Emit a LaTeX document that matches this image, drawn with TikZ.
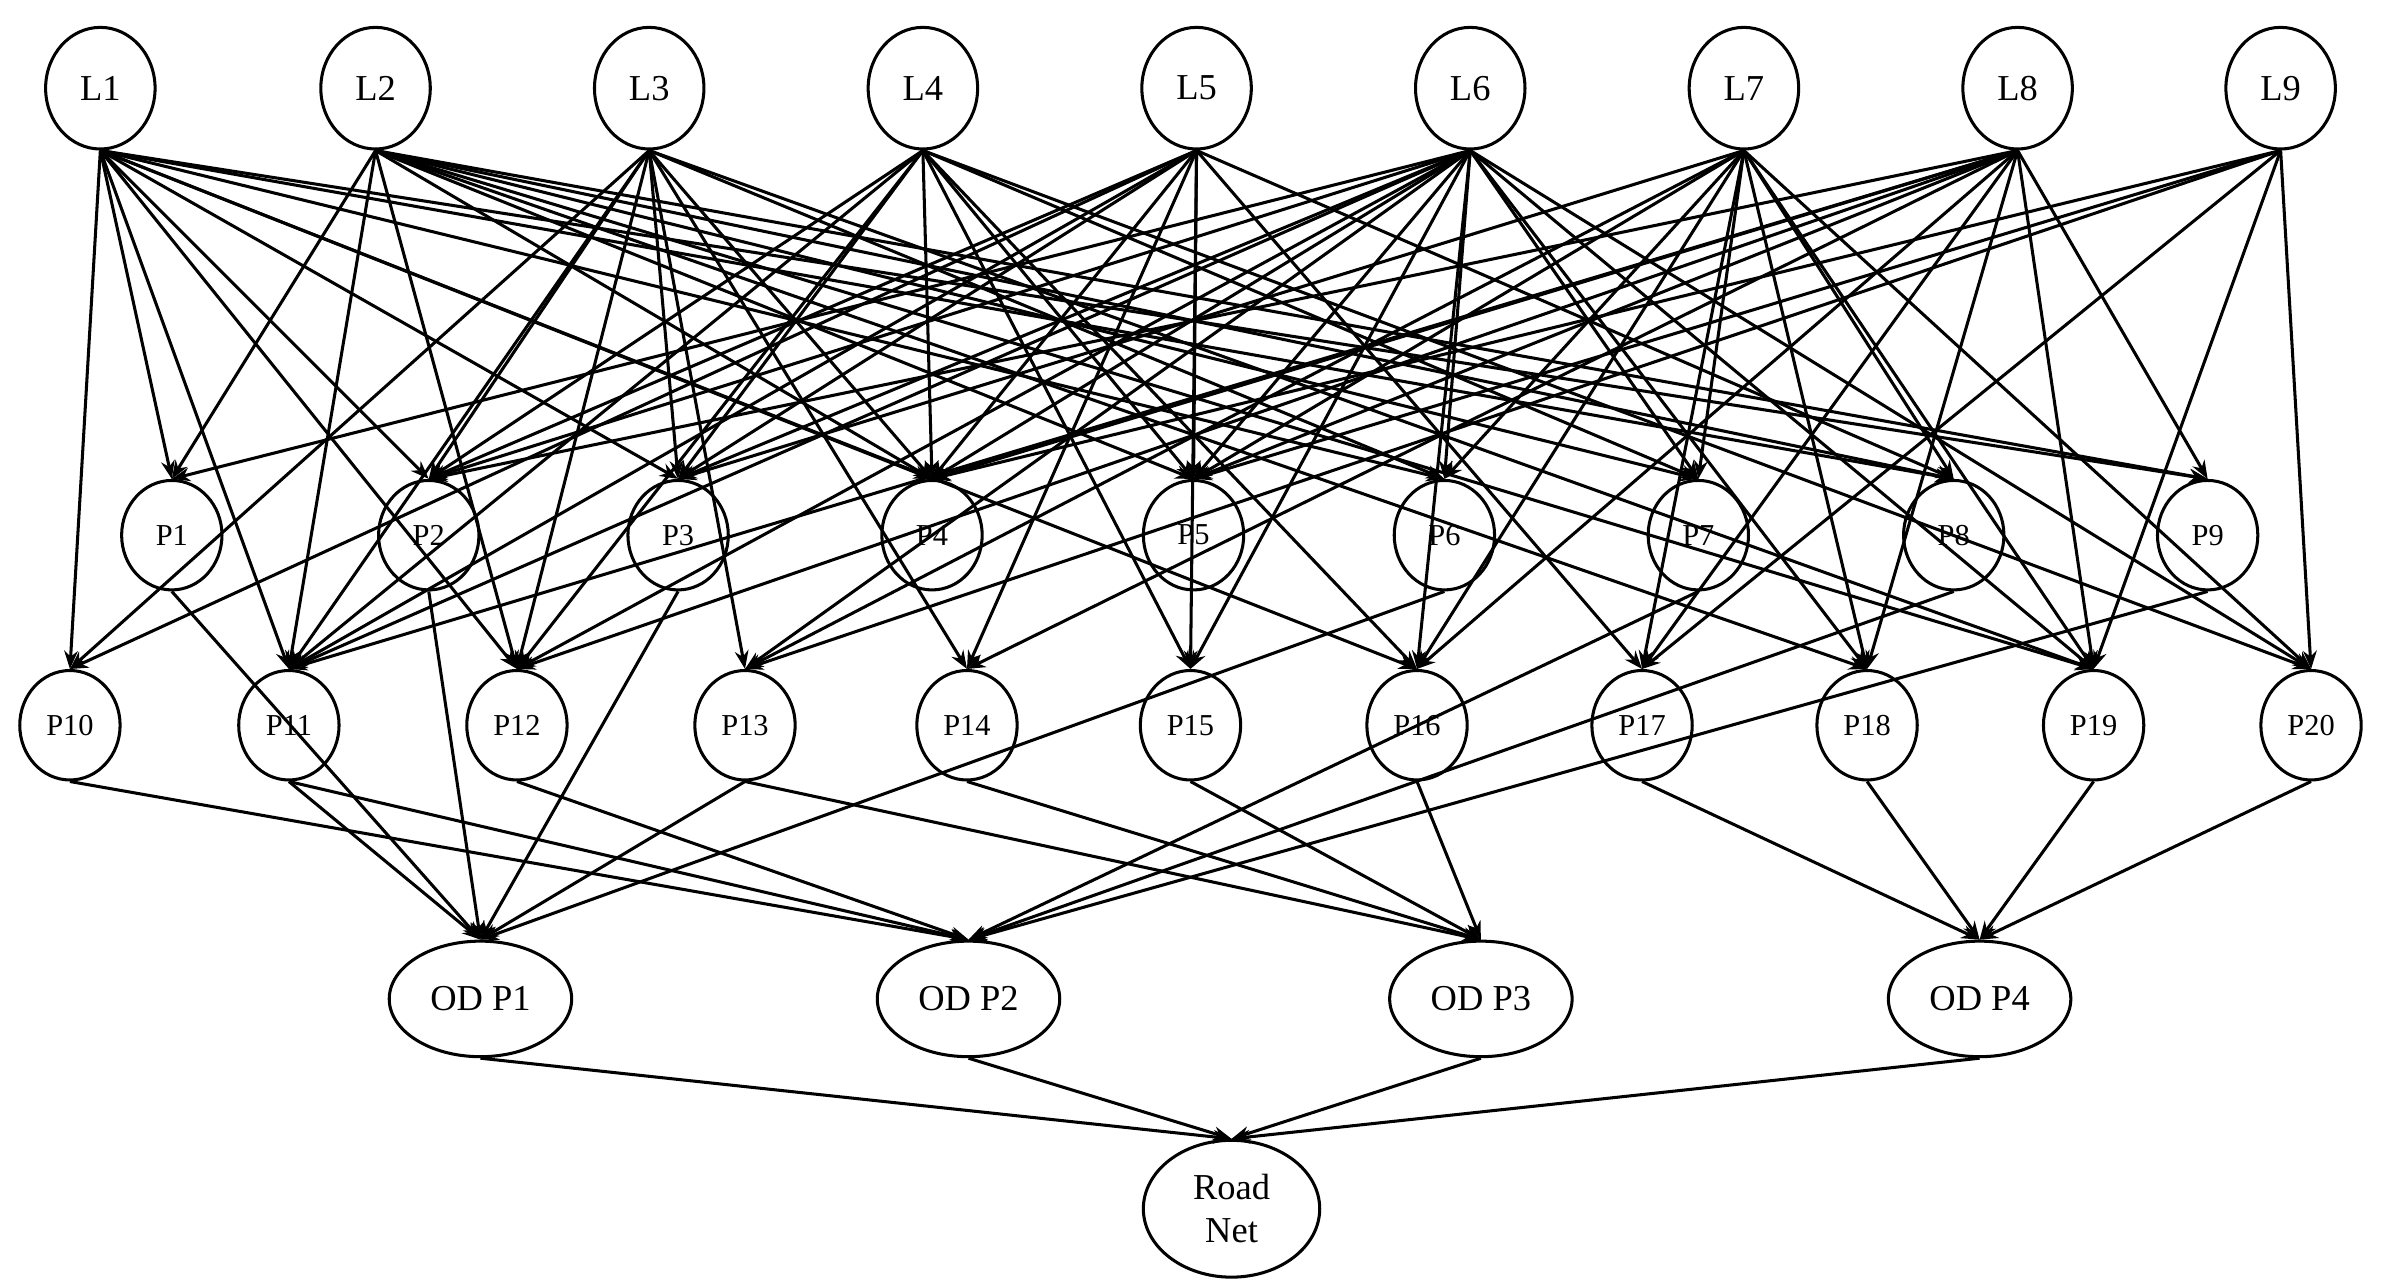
\documentclass[tikz,border=0pt]{standalone}
\usepackage{fontspec}
\setmainfont{Liberation Serif}
\usetikzlibrary{arrows.meta,shapes.geometric}
\begin{document}
\begin{tikzpicture}[x=0.5pt,y=-0.5pt,
  L/.style={ellipse,draw,line width=1pt,minimum width=36pt,minimum height=40pt,inner sep=0pt,font=\fontsize{12}{14}\selectfont},
  P/.style={ellipse,draw,line width=1pt,minimum width=33pt,minimum height=36pt,inner sep=0pt,font=\fontsize{10}{12}\selectfont},
  OD/.style={ellipse,draw,line width=1pt,minimum width=60pt,minimum height=38pt,inner sep=0pt,font=\fontsize{12}{14}\selectfont},
  e/.style={-{Stealth[length=6pt,width=4.5pt]},line width=1pt}]
\useasboundingbox (0,0) rectangle (1568,846);
\foreach \i/\x in {1/66,2/247,3/427,4/607,5/787,6/967,7/1147,8/1327,9/1500}
  \node[L] (L\i) at (\x,58) {L\i};
\foreach \i/\x in {1/113,2/282,3/446,4/613,5/785,6/950,7/1117,8/1285,9/1452}
  \node[P] (P\i) at (\x,352) {P\i};
\foreach \i/\x in {10/46,11/190,12/340,13/490,14/636,15/783,16/932,17/1080,18/1228,19/1377,20/1520}
  \node[P] (P\i) at (\x,477) {P\i};
\node[OD] (O1) at (316,657) {OD P1};
\node[OD] (O2) at (637,657) {OD P2};
\node[OD] (O3) at (974,657) {OD P3};
\node[OD] (O4) at (1302,657) {OD P4};
\node[ellipse,draw,line width=1pt,minimum width=58pt,minimum height=45pt,inner sep=0pt,align=center,font=\fontsize{12}{14}\selectfont] (R) at (810,795) {Road\\Net};
\foreach \s/\ts in {1/{1,2,3,4,6,8,9,10,11,12,16},
  2/{1,4,5,7,8,9,11,12,18,19},
  3/{2,3,4,6,10,11,12,13,14,19},
  4/{2,3,4,5,7,11,12,15,16,20},
  5/{2,3,4,5,8,10,11,14,15,17},
  6/{1,2,3,4,5,6,7,11,12,13,15,16,18,19,20},
  7/{3,5,6,7,8,13,16,17,18,19,20},
  8/{2,4,5,9,11,12,14,16,17,18,19},
  9/{4,5,13,17,19,20}}
  \foreach \t in \ts \draw[e] (L\s.south) -- (P\t.north);
\foreach \s in {1,2,3,11,13,6} \draw[e] (P\s.south) -- (O1.north);
\foreach \s in {10,11,12,7,8,9} \draw[e] (P\s.south) -- (O2.north);
\foreach \s in {13,14,15,16} \draw[e] (P\s.south) -- (O3.north);
\foreach \s in {17,18,19,20} \draw[e] (P\s.south) -- (O4.north);
\foreach \s in {1,2,3,4} \draw[e] (O\s.south) -- (R.north);
\end{tikzpicture}
\end{document}
